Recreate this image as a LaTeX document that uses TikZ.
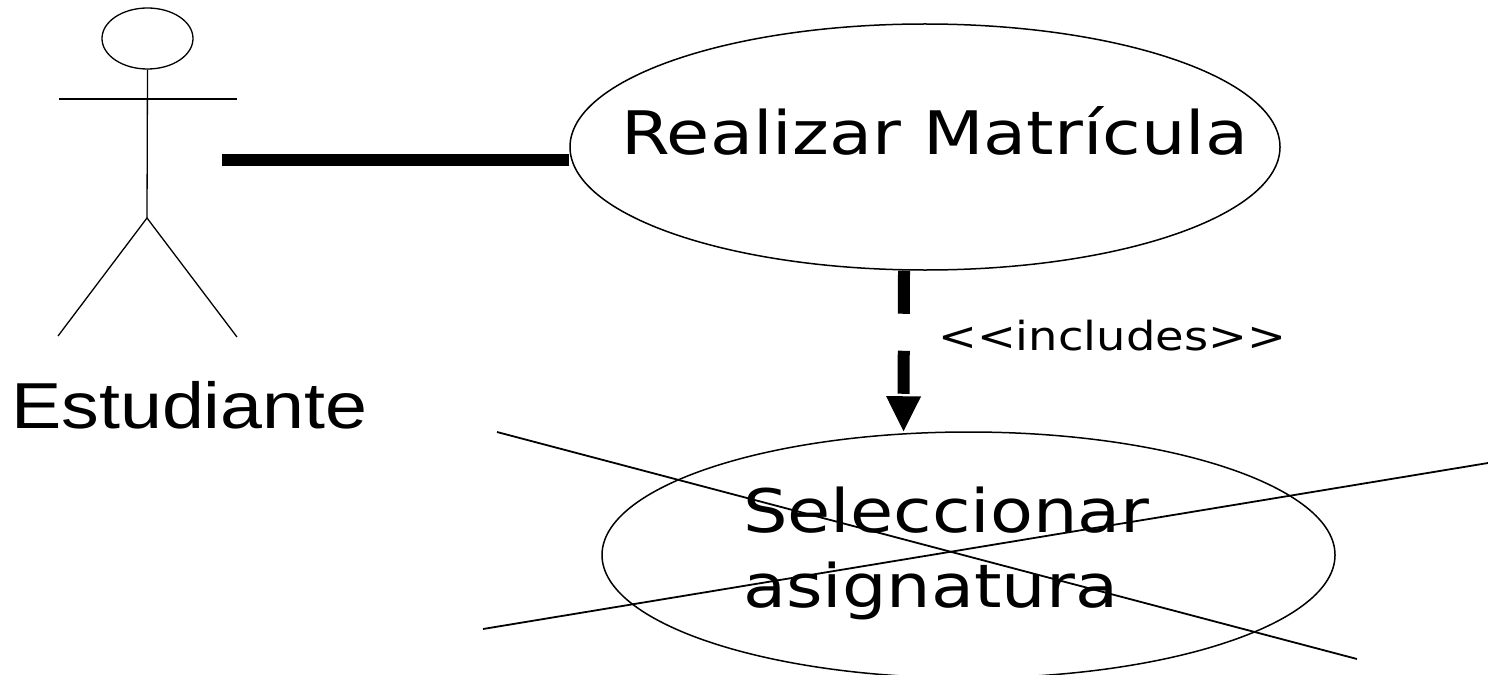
\documentclass[tikz,border=0pt]{standalone}
\usepackage{fontspec}
\usepackage{graphicx}
\usetikzlibrary{shapes.geometric,arrows.meta}
\newfontfamily\dvfont{DejaVu Sans}
\newfontfamily\lsfont{Liberation Sans}
\tikzset{
  thin line/.style={line width=1.3bp, draw=black},
  usecase/.style={ellipse, draw=black, line width=1.5bp, inner sep=0pt},
  big text/.style={inner sep=0pt, anchor=base west, font=\dvfont\fontsize{60bp}{72bp}\selectfont},
  small text/.style={inner sep=0pt, anchor=base west, font=\dvfont\fontsize{40bp}{48bp}\selectfont},
  actor text/.style={inner sep=0pt, anchor=base west, font=\lsfont\fontsize{65bp}{78bp}\selectfont},
  assoc/.style={line width=12.5bp, line cap=butt},
  incl/.style={line width=12bp, line cap=butt, dash pattern=on 43bp off 37bp,
    -{Triangle[length=35bp,width=35bp,line width=0bp]}},
  cross/.style={line width=1.8bp}
}
\begin{document}
\begin{tikzpicture}[x=1bp, y=-1bp]
\useasboundingbox (0,0) rectangle (1488,675);
% actor
\node[ellipse, thin line, minimum width=91bp, minimum height=61bp, inner sep=0pt] (head) at (147.5,38.5) {};
\coordinate (hip) at (147,218);
\coordinate (armL) at (59,99);
\coordinate (armR) at (237,99);
\coordinate (footL) at (58,336);
\coordinate (footR) at (237,337);
\draw[thin line] (head.south) -- (hip);
\draw[thin line] (armL) -- (armR);
\draw[thin line] (footL) -- (hip) -- (footR);
\node[actor text] (estudiante) at (11,428) {\scalebox{1.16}[1]{Estudiante}};
% use cases
\node[usecase, minimum width=710bp, minimum height=246bp] (realizar) at (925,147) {};
\node[usecase, minimum width=733bp, minimum height=246bp] (selec) at (968.5,555) {};
\node[big text] (trealizar) at (621,154) {\scalebox{1.17}[1]{Realizar Matrícula}};
\node[big text] (tsel1) at (743,532) {\scalebox{1.17}[1]{Seleccionar}};
\node[big text] (tsel2) at (743,607) {\scalebox{1.17}[1]{asignatura}};
% association
\coordinate (actorR) at (222,160);
\draw[assoc] (actorR) -- (actorR -| realizar.west);
% include
\draw[incl] ([xshift=-21bp]realizar.south) -- ([xshift=-65bp]selec.north);
\node[small text] (tincl) at (938,350) {\scalebox{1.16}[1]{<{}<includes>{}>}};
% cross-out
\coordinate (c1a) at (497,432);
\coordinate (c1b) at (1357,659);
\coordinate (c2a) at (483,629);
\coordinate (c2b) at (1488,463);
\draw[cross] (c1a) -- (c1b);
\draw[cross] (c2a) -- (c2b);
\end{tikzpicture}
\end{document}
